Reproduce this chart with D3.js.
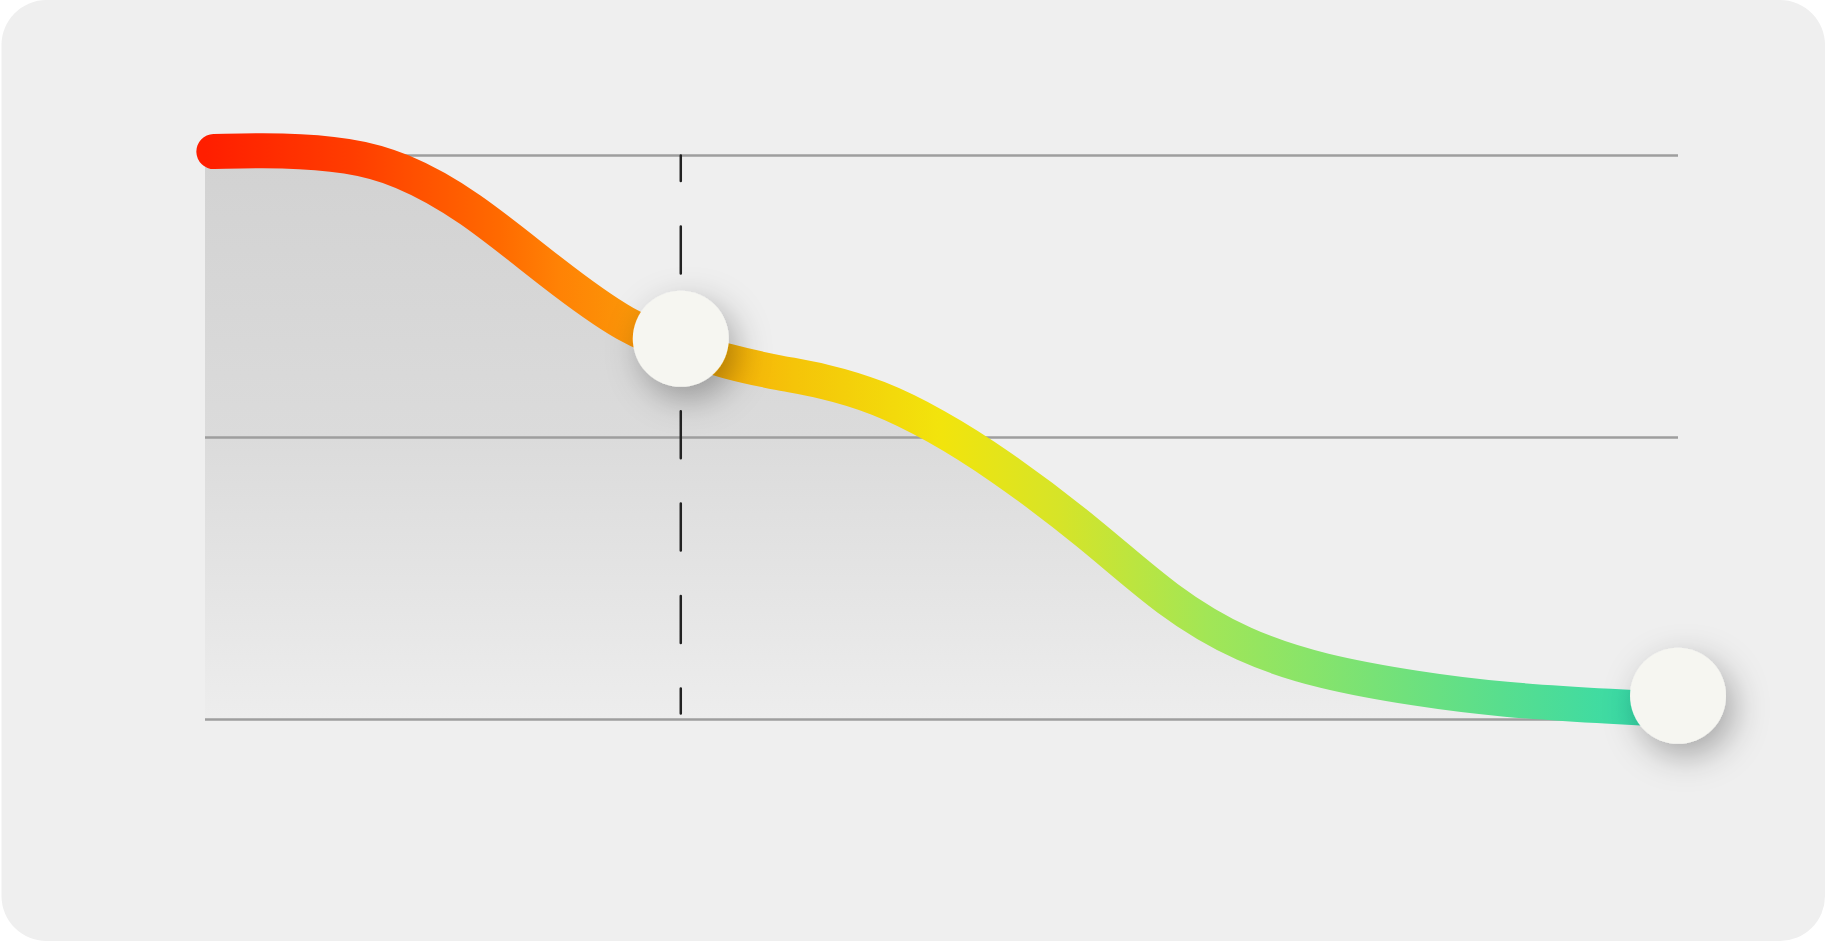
<!DOCTYPE html>
<html>
<head>
<meta charset="utf-8">
<script src="https://cdn.jsdelivr.net/npm/d3@7"></script>
<style>
  body { margin: 0; background: #ffffff; }
  svg { display: block; }
</style>
</head>
<body>
<div id="chart"></div>
<script>
// Data (x: 0-100 across the plot, y: 0-100 up the plot)
const xValues = [0.6, 5.3, 9.8, 13.2, 17.8, 23.6, 28.8, 32.2, 35.4, 39.2, 41.8, 45.7,
  49.6, 53.7, 60.1, 65.4, 70.5, 75.8, 82.3, 87.9, 96.1, 100];
const yValues = [100.7, 101.0, 100.1, 97.8, 91.4, 79.0, 69.1, 66.2, 63.4, 61.3, 60.2, 57.3,
  52.2, 45.6, 33.1, 20.7, 12.9, 8.4, 5.4, 3.5, 2.2, 1.7];
const markerX = [32.3, 100];
const markerY = [67.5, 4.2];
const yTicks = [0, 50, 100];
const cursorX = 32.3;

const width = 1825;
const height = 942;

const points = xValues.map((x, i) => ({ x, y: yValues[i] }));
const markers = markerX.map((x, i) => ({ x, y: markerY[i] }));

const svg = d3.select('#chart')
  .append('svg')
  .attr('width', width)
  .attr('height', height);

const xScale = d3.scaleLinear().domain([0, 100]).range([205, 1678]);
const yScale = d3.scaleLinear().domain([0, 100]).range([719.5, 155.5]);

// Defs: gradients and shadow
const defs = svg.append('defs');

const lineGrad = defs.append('linearGradient')
  .attr('id', 'lineGrad')
  .attr('gradientUnits', 'userSpaceOnUse')
  .attr('x1', xScale(0)).attr('x2', xScale(100))
  .attr('y1', 0).attr('y2', 0);
[
  [0, '#ff1e00'], [0.1, '#ff3d00'], [0.2, '#ff6a00'], [0.24, '#ff8205'],
  [0.3, '#fa9a08'], [0.4, '#f5c409'], [0.5, '#f2e40c'], [0.58, '#d6e428'],
  [0.68, '#a2e656'], [0.75, '#88e46a'], [0.88, '#58de8e'], [1, '#2ed9b0'],
].forEach(([o, c]) => lineGrad.append('stop').attr('offset', o).attr('stop-color', c));

const areaGrad = defs.append('linearGradient')
  .attr('id', 'areaGrad')
  .attr('gradientUnits', 'userSpaceOnUse')
  .attr('x1', 0).attr('x2', 0)
  .attr('y1', yScale(100)).attr('y2', yScale(0));
[[0, '#d2d2d2'], [0.5, '#dbdbdb'], [1, '#ededed']]
  .forEach(([o, c]) => areaGrad.append('stop').attr('offset', o).attr('stop-color', c));

const shadow = defs.append('filter')
  .attr('id', 'shadow')
  .attr('x', '-100%').attr('y', '-100%')
  .attr('width', '300%').attr('height', '300%');
shadow.append('feDropShadow')
  .attr('dx', 8).attr('dy', 12)
  .attr('stdDeviation', 17)
  .attr('flood-color', '#000')
  .attr('flood-opacity', 0.3);

// Card background
svg.append('rect')
  .attr('x', 1.5).attr('y', 0)
  .attr('width', width - 1.5).attr('height', height - 1)
  .attr('rx', 45).attr('ry', 45)
  .attr('fill', '#efefef');

// Area under the curve (starts at the left edge of the plot)
const areaPoints = [{ x: 0, y: points[0].y }, ...points];
const area = d3.area()
  .x((d) => xScale(d.x))
  .y0(yScale(0))
  .y1((d) => yScale(d.y))
  .curve(d3.curveBasis);

svg.append('path')
  .datum(areaPoints)
  .attr('d', area)
  .attr('fill', 'url(#areaGrad)');

// Grid lines
svg.append('g')
  .selectAll('line')
  .data(yTicks).enter()
  .append('line')
  .attr('x1', xScale(0))
  .attr('x2', xScale(100))
  .attr('y1', (d) => yScale(d))
  .attr('y2', (d) => yScale(d))
  .attr('stroke', '#9e9e9e')
  .attr('stroke-width', 2.5);

// Curve
const line = d3.line()
  .x((d) => xScale(d.x))
  .y((d) => yScale(d.y))
  .curve(d3.curveBasis);

svg.append('path')
  .datum(points)
  .attr('d', line)
  .attr('fill', 'none')
  .attr('stroke', 'url(#lineGrad)')
  .attr('stroke-width', 35)
  .attr('stroke-linecap', 'round')
  .attr('stroke-linejoin', 'round');

// Dashed cursor
svg.append('line')
  .attr('x1', xScale(cursorX))
  .attr('x2', xScale(cursorX))
  .attr('y1', yScale(100))
  .attr('y2', yScale(0) - 6)
  .attr('stroke', '#222')
  .attr('stroke-width', 2.5)
  .attr('stroke-linecap', 'round')
  .attr('stroke-dasharray', '47 45.4')
  .attr('stroke-dashoffset', 21.5);

// Markers
svg.append('g')
  .selectAll('circle')
  .data(markers).enter()
  .append('circle')
  .attr('cx', (d) => xScale(d.x))
  .attr('cy', (d) => yScale(d.y))
  .attr('r', 48)
  .attr('fill', '#f6f6f1')
  .attr('filter', 'url(#shadow)');
</script>
</body>
</html>
